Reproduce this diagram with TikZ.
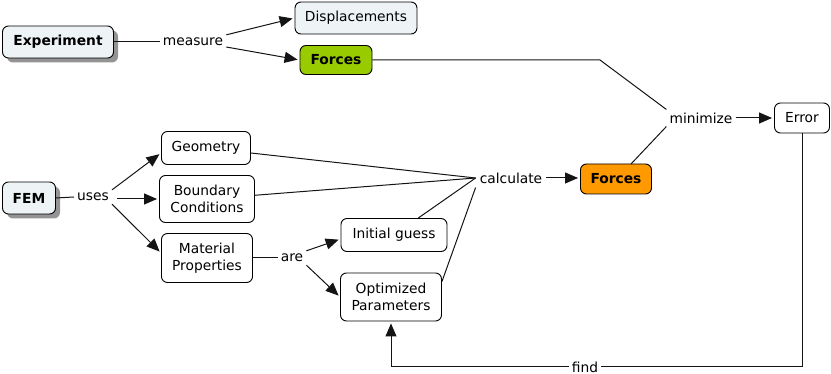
\documentclass[tikz,border=0pt]{standalone}
\usepackage{fontspec}
\setmainfont{DejaVu Sans}
\usetikzlibrary{arrows.meta,shadows}
\definecolor{lightbox}{RGB}{238,244,246}
\definecolor{greenbox}{RGB}{153,204,0}
\definecolor{orangebox}{RGB}{255,153,0}
\definecolor{linec}{RGB}{20,20,20}
\tikzset{
  box/.style={draw=black, line width=0.9pt, rounded corners=6pt, fill=white, inner sep=0pt, align=center, font=\fontsize{13.8}{16.5}\selectfont},
  shad/.style={drop shadow={shadow xshift=4.5pt, shadow yshift=-4.5pt, fill=black!42, opacity=1}},
  lbl/.style={inner sep=3pt, font=\fontsize{13.8}{16.5}\selectfont},
  conn/.style={draw=linec, line width=1pt},
  arr/.style={conn, -{Triangle[length=13pt,width=11pt]}, shorten >=2pt}
}
\begin{document}
\begin{tikzpicture}[x=1pt,y=-1pt]
\useasboundingbox (0,0) rectangle (831,374);
% nodes
\node[box, shad, fill=lightbox, minimum width=111pt, minimum height=32pt, font=\fontsize{13.8}{16.5}\selectfont\bfseries] (exp) at (58,42) {Experiment};
\node[lbl] (meas) at (193,42) {measure};
\node[box, fill=lightbox, minimum width=122pt, minimum height=32pt] (disp) at (356,18) {Displacements};
\node[box, fill=greenbox, minimum width=72pt, minimum height=29pt, font=\fontsize{13.8}{16.5}\selectfont\bfseries] (fg) at (336,60) {Forces};
\node[box, shad, fill=lightbox, minimum width=53pt, minimum height=32pt, font=\fontsize{13.8}{16.5}\selectfont\bfseries] (fem) at (29,198) {FEM};
\node[lbl] (uses) at (93,197) {uses};
\node[box, minimum width=89pt, minimum height=33pt] (geo) at (206,148) {Geometry};
\node[box, minimum width=95pt, minimum height=47pt] (bc) at (207,199) {Boundary\\Conditions};
\node[box, minimum width=91pt, minimum height=49pt] (mp) at (207,258) {Material\\Properties};
\node[lbl] (are) at (292,258) {are};
\node[box, minimum width=106pt, minimum height=33pt] (init) at (394,235) {Initial guess};
\node[box, minimum width=101pt, minimum height=48pt] (opt) at (391,297) {Optimized\\Parameters};
\node[lbl, inner sep=4pt] (calc) at (511,178) {calculate};
\node[box, fill=orangebox, minimum width=71pt, minimum height=30pt, font=\fontsize{13.8}{16.5}\selectfont\bfseries] (fo) at (616,179) {Forces};
\node[lbl] (min) at (701,118) {minimize};
\node[box, minimum width=55pt, minimum height=30pt] (err) at (802,118) {Error};
\node[lbl] (find) at (585,367) {find};
\coordinate (bend) at (600,60);
% connectors
\draw[conn] (exp.east) -- (meas.west);
\draw[arr] (meas.north east) -- (disp.west);
\draw[arr] ([yshift=-5pt]meas.east) -- (fg.west);
\draw[conn] (fg.east) -- (bend) -- (min.north west);
\draw[conn] (fo) ++(15,-15) -- (min.south west);
\draw[arr] (min.east) -- (min.east -| err.west);
\draw[conn] (fem.east) -- (uses.west);
\draw[arr] (uses.north east) -- ([yshift=-5pt]geo.west);
\draw[arr] ([xshift=5pt,yshift=-2pt]uses.east) -- ([yshift=-2pt]uses.east -| bc.west);
\draw[arr] (uses.south east) -- ([yshift=5pt]mp.west);
\draw[conn] (mp.east) -- (are.west);
\draw[arr] (are.north east) -- ([yshift=-4pt]init.west);
\draw[arr] (are.south east) -- (opt.west);
\draw[conn] (geo) -- (calc.west);
\draw[conn] (bc) -- (calc.west);
\draw[conn] (init) -- (calc.west);
\draw[conn] ([yshift=-9pt]opt.north east) -- (calc.south west);
\draw[arr] (calc.east) -- (calc.east -| fo.west);
\draw[conn] (err.south) -- (err.south |- find) -- (find.east);
\draw[arr] (find.west) -- (opt.south |- find) -- (opt.south);
\end{tikzpicture}
\end{document}
